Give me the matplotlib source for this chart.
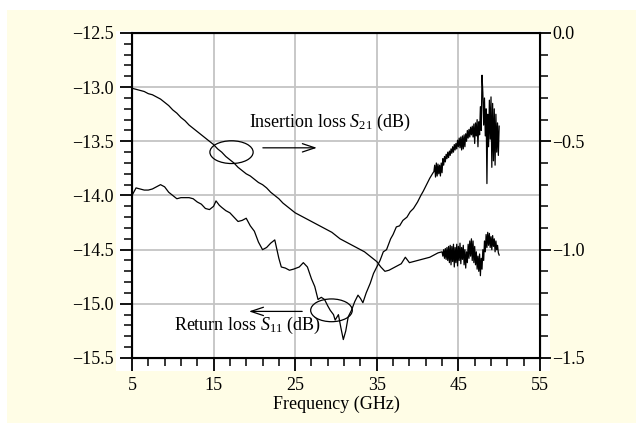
import matplotlib
matplotlib.use("Agg")
import matplotlib.pyplot as plt
import numpy as np
from matplotlib.patches import Ellipse, Rectangle
from matplotlib.ticker import MultipleLocator, FixedLocator, FuncFormatter

plt.rcParams['font.family'] = 'Liberation Serif'
plt.rcParams['mathtext.fontset'] = 'custom'
plt.rcParams['mathtext.rm'] = 'Liberation Serif'
plt.rcParams['mathtext.it'] = 'Liberation Serif:italic'

# Insertion loss S21 (right axis, dB) - smooth part
s21_freq = [5.0, 5.5, 6.0, 6.5, 7.0, 7.5, 8.0, 8.5, 9.0, 9.5, 10.0, 10.5, 11.0, 11.5,
            12.0, 12.5, 13.0, 13.5, 14.0, 14.5, 15.0, 15.5, 16.0, 16.5, 17.0, 17.5,
            18.0, 18.5, 19.0, 19.5, 20.0, 20.5, 21.0, 21.5, 22.0, 22.5, 23.0, 23.5,
            24.0, 24.5, 25.0, 25.5, 26.0, 26.5, 27.0, 27.5, 28.0, 28.5, 29.0, 29.5,
            30.0, 30.5, 31.0, 31.5, 32.0, 32.5, 33.0, 33.5, 34.0, 34.5, 35.0, 35.5,
            36.0, 36.5, 37.0, 37.5, 38.0, 38.5, 39.0, 39.5, 40.0, 40.5, 41.0, 41.5,
            42.0, 42.5]
s21_db = [-0.255, -0.260, -0.265, -0.270, -0.280, -0.285, -0.295, -0.305, -0.320, -0.335,
          -0.355, -0.370, -0.390, -0.405, -0.425, -0.440, -0.455, -0.470, -0.485, -0.500,
          -0.515, -0.535, -0.550, -0.570, -0.585, -0.600, -0.620, -0.635, -0.650, -0.660,
          -0.675, -0.690, -0.700, -0.715, -0.735, -0.750, -0.765, -0.785, -0.800, -0.815,
          -0.830, -0.840, -0.850, -0.860, -0.870, -0.880, -0.890, -0.900, -0.910, -0.920,
          -0.935, -0.950, -0.960, -0.970, -0.980, -0.990, -1.000, -1.010, -1.025, -1.040,
          -1.055, -1.080, -1.100, -1.095, -1.085, -1.075, -1.065, -1.035, -1.060, -1.055,
          -1.050, -1.045, -1.040, -1.035, -1.025, -1.015]
# S21 noisy tail, 43.0 .. 50.0 GHz every 0.1 GHz
s21_tail_freq = np.round(np.arange(43.0, 50.05, 0.1), 1)
s21_tail_db = [-1.010, -1.030, -1.000, -1.040, -0.995, -1.045, -0.990, -1.050, -0.985, -1.060,
               -0.980, -1.070, -0.985, -1.055, -0.975, -1.080, -0.990, -1.060, -0.975, -1.075,
               -0.985, -1.050, -0.970, -1.065, -0.990, -1.045, -0.980, -1.070, -1.000, -1.085,
               -1.010, -1.060, -0.975, -1.040, -0.960, -1.030, -0.950, -1.050, -0.960, -1.060,
               -0.985, -1.070, -1.010, -1.090, -1.030, -1.100, -1.020, -1.120, -1.040, -1.090,
               -1.000, -1.050, -0.960, -1.010, -0.930, -0.990, -0.920, -0.980, -0.925, -0.990,
               -0.940, -1.000, -0.935, -0.985, -0.950, -1.010, -0.960, -1.000, -0.980, -1.015,
               -1.025]

# Return loss S11 (left axis, dB) - smooth part
s11_freq = [5.0, 5.5, 6.0, 6.5, 7.0, 7.5, 8.0, 8.5, 9.0, 9.5, 10.0, 10.5, 11.0, 11.5,
            12.0, 12.5, 13.0, 13.5, 14.0, 14.5, 15.0, 15.3, 15.7, 16.0, 16.5, 17.0,
            17.5, 18.0, 18.5, 19.0, 19.5, 20.0, 20.5, 21.0, 21.5, 22.0, 22.5, 23.0,
            23.3, 23.8, 24.3, 24.8, 25.5, 26.0, 26.5, 27.0, 27.4, 27.8, 28.2, 28.6,
            29.0, 29.3, 29.7, 29.9, 30.3, 30.6, 30.9, 31.2, 31.5, 31.9, 32.3, 32.7,
            33.0, 33.3, 33.7, 34.2, 34.6, 35.0, 35.4, 35.8, 36.2, 36.7, 37.0, 37.4,
            37.8, 38.2, 38.7, 39.1, 39.5, 40.0, 40.4, 40.7, 41.1, 41.5, 41.9]
s11_db = [-14.00, -13.93, -13.94, -13.95, -13.95, -13.94, -13.92, -13.90, -13.92, -13.97,
          -14.00, -14.03, -14.02, -14.02, -14.02, -14.03, -14.06, -14.08, -14.12, -14.13,
          -14.10, -14.05, -14.09, -14.11, -14.14, -14.16, -14.20, -14.24, -14.23, -14.21,
          -14.28, -14.33, -14.43, -14.50, -14.48, -14.44, -14.41, -14.58, -14.66, -14.67,
          -14.69, -14.68, -14.66, -14.62, -14.66, -14.77, -14.84, -14.96, -14.94, -14.96,
          -15.02, -15.06, -15.10, -15.15, -15.10, -15.22, -15.33, -15.25, -15.12, -15.06,
          -14.98, -14.92, -14.95, -14.99, -14.90, -14.81, -14.72, -14.66, -14.60, -14.52,
          -14.50, -14.40, -14.36, -14.29, -14.28, -14.23, -14.20, -14.15, -14.12, -14.06,
          -14.00, -13.96, -13.90, -13.84, -13.79]
# S11 noisy tail, 42.0 .. 50.0 GHz every 0.1 GHz
s11_tail_freq = np.round(np.arange(42.0, 50.05, 0.1), 1)
s11_tail_db = [-13.78, -13.72, -13.83, -13.70, -13.82, -13.71, -13.80, -13.72, -13.82, -13.70,
               -13.79, -13.66, -13.72, -13.64, -13.69, -13.62, -13.66, -13.60, -13.65, -13.59,
               -13.63, -13.57, -13.61, -13.55, -13.60, -13.53, -13.58, -13.52, -13.57, -13.49,
               -13.55, -13.47, -13.56, -13.46, -13.58, -13.45, -13.57, -13.44, -13.55, -13.43,
               -13.50, -13.40, -13.47, -13.39, -13.46, -13.37, -13.44, -13.36, -13.46, -13.34,
               -13.52, -13.33, -13.45, -13.30, -13.55, -13.32, -13.44, -13.18, -13.40, -12.89,
               -13.05, -13.35, -13.10, -13.45, -13.20, -13.89, -13.25, -13.55, -13.12, -13.48,
               -13.09, -13.74, -13.15, -13.68, -13.20, -13.72, -13.25, -13.60, -13.33, -13.63,
               -13.36]

minus_fmt = FuncFormatter(lambda v, p: f'{v:.1f}'.replace('-', '\u2212'))
fs = 13

fig = plt.figure(figsize=(6.36, 4.23), dpi=100, facecolor='white')
# cream panel and white box behind the plot
fig.patches.append(Rectangle((0.011, 0.0), 0.989, 0.976, transform=fig.transFigure,
                             facecolor='#fffde6', edgecolor='none', zorder=-2))
fig.patches.append(Rectangle((0.182, 0.123), 0.683, 0.804, transform=fig.transFigure,
                             facecolor='white', edgecolor='none', zorder=-1))

ax = fig.add_axes([0.2075, 0.1537, 0.6415, 0.7683])
ax.set_facecolor('white')
ax.plot(list(s11_freq) + list(s11_tail_freq), s11_db + s11_tail_db,
        color='black', lw=0.9, zorder=3)
ax.set_xlim(5, 55)
ax.set_ylim(-15.5, -12.5)
ax.xaxis.set_major_locator(FixedLocator([5, 15, 25, 35, 45, 55]))
ax.xaxis.set_minor_locator(FixedLocator(list(range(5, 56, 2))))
ax.yaxis.set_major_locator(MultipleLocator(0.5))
ax.yaxis.set_minor_locator(MultipleLocator(0.1))
ax.yaxis.set_major_formatter(minus_fmt)
ax.grid(True, which='major', color='#c4c4c4', lw=1.3, zorder=0)
ax.tick_params(which='major', direction='out', length=9, width=1.3, labelsize=fs, pad=4)
ax.tick_params(which='minor', direction='out', length=6, width=1.1)
ax.tick_params(axis='x', which='major', pad=5)
for s in ax.spines.values():
    s.set_linewidth(1.5)
ax.set_xlabel('Frequency (GHz)', fontsize=fs, labelpad=1)

ax2 = ax.twinx()
ax2.plot(list(s21_freq) + list(s21_tail_freq), s21_db + s21_tail_db,
         color='black', lw=0.9, zorder=3)
ax2.set_ylim(-1.5, 0.0)
ax2.yaxis.set_major_locator(MultipleLocator(0.5))
ax2.yaxis.set_minor_locator(MultipleLocator(0.1))
ax2.yaxis.set_major_formatter(minus_fmt)
ax2.tick_params(which='major', direction='out', length=8, width=1.3, labelsize=fs, pad=1)
ax2.tick_params(which='minor', direction='out', length=6, width=1.1)

# annotations (drawn in left-axis units)
ax.add_patch(Ellipse((17.2, -13.6), 5.3, 0.21, fill=False, lw=0.9, zorder=4))
ax.annotate('', xy=(28.0, -13.56), xytext=(20.7, -13.56),
            arrowprops=dict(arrowstyle='->,head_length=0.9,head_width=0.3', lw=0.9, color='black'))
ax.text(19.4, -13.33, 'Insertion loss $\\mathit{S}_{21}$ (dB)', fontsize=fs, va='center', ha='left')

ax.add_patch(Ellipse((29.45, -15.06), 5.1, 0.21, fill=False, lw=0.9, zorder=4))
ax.annotate('', xy=(19.0, -15.07), xytext=(26.2, -15.07),
            arrowprops=dict(arrowstyle='->,head_length=0.9,head_width=0.3', lw=0.9, color='black'))
ax.text(10.2, -15.2, 'Return loss $\\mathit{S}_{11}$ (dB)', fontsize=fs, va='center', ha='left')

fig.savefig('out.png', dpi=100, facecolor=fig.get_facecolor())
